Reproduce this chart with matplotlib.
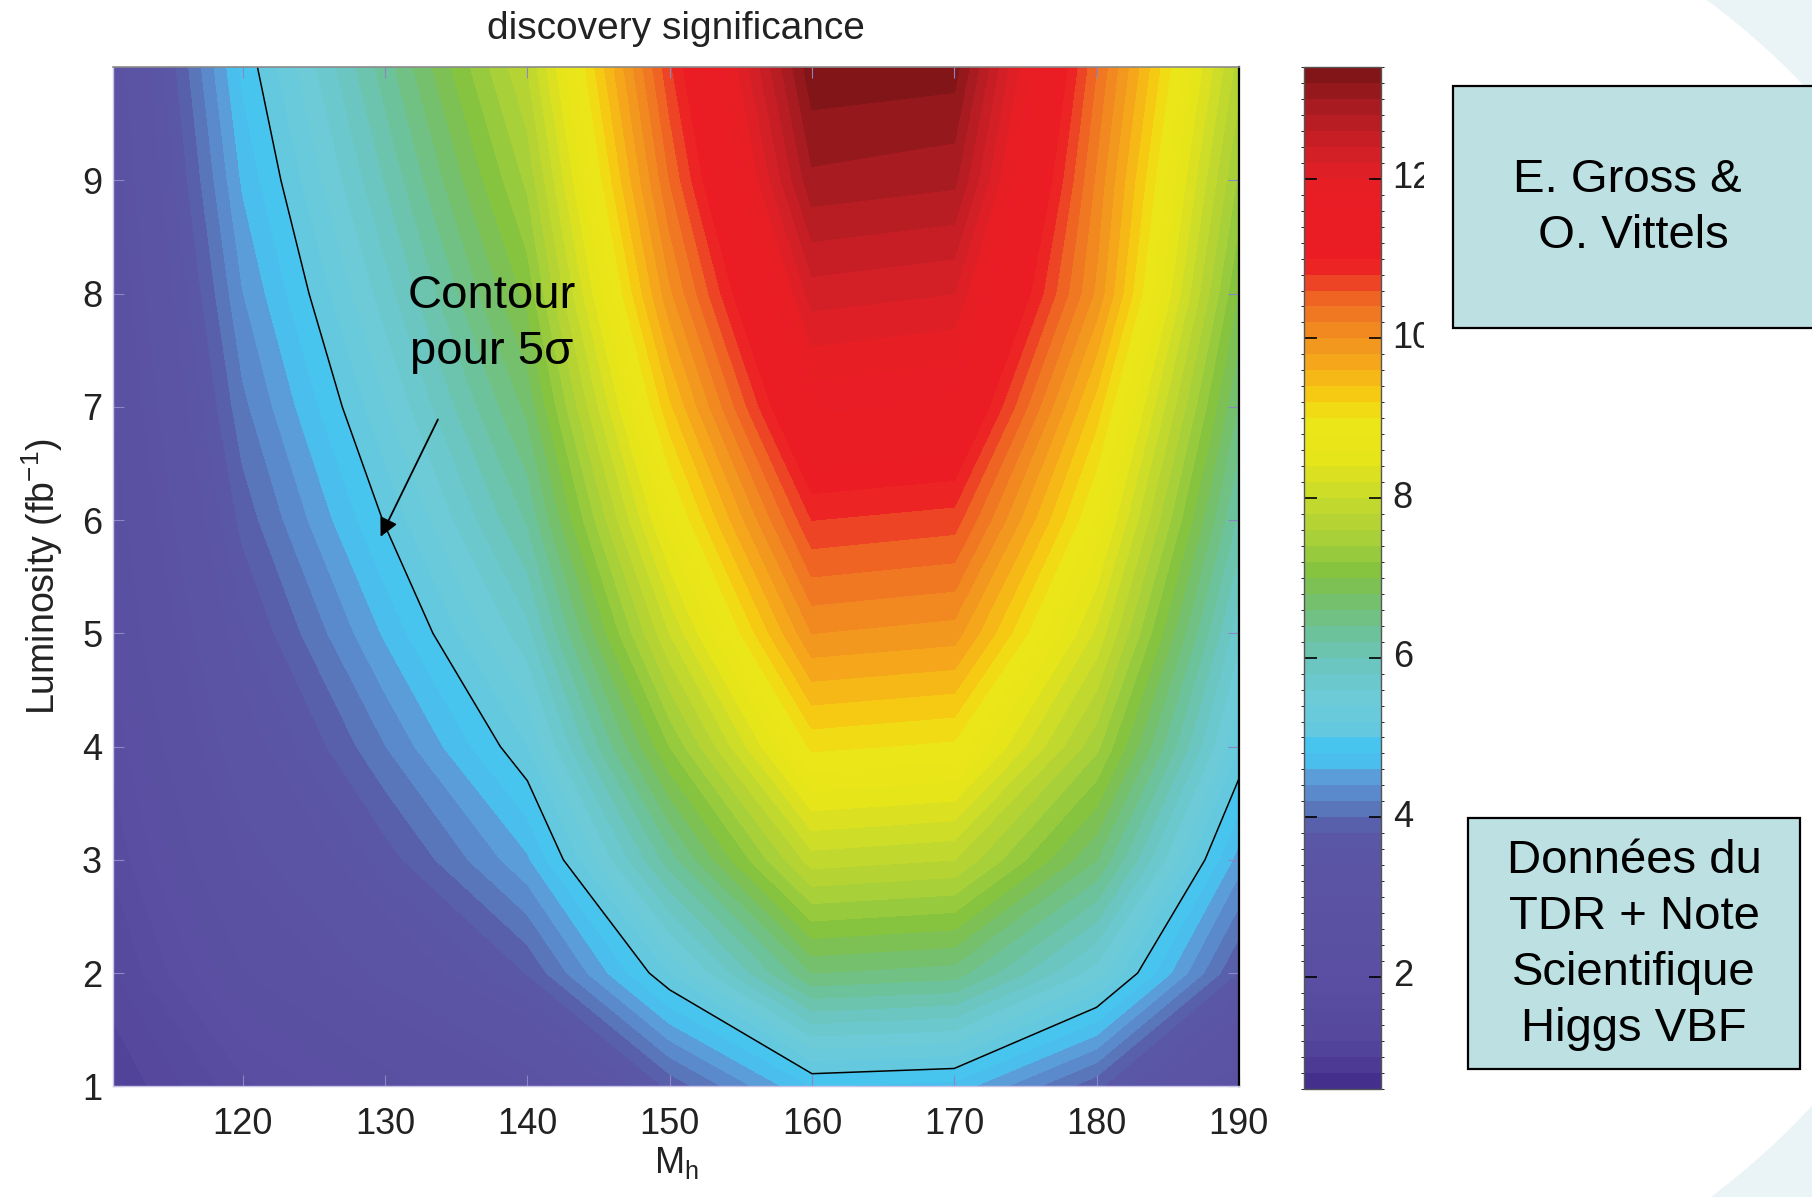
import numpy as np
import matplotlib
matplotlib.use("Agg")
import matplotlib.pyplot as plt
from matplotlib import font_manager
from matplotlib.colors import LinearSegmentedColormap, ListedColormap, BoundaryNorm
from matplotlib.patches import Rectangle, Ellipse
from matplotlib.transforms import Bbox, TransformedBbox, blended_transform_factory

# --- données (significance vs M_h et luminosité) ---
mass = [110, 120, 130, 140, 150, 160, 170, 180, 190]
lumi = [1, 2, 3, 4, 5, 6, 7, 8, 9, 10]
# une colonne par masse, de L=1 à L=10 fb-1
sig_by_mass = [
    [0.93, 1.27, 1.52, 1.73, 1.91, 2.07, 2.22, 2.35, 2.48, 2.60],    # 110
    [1.74, 2.37, 2.84, 3.23, 3.56, 3.87, 4.14, 4.39, 4.63, 4.85],    # 120
    [2.26, 3.08, 3.69, 4.19, 4.63, 5.02, 5.37, 5.70, 6.01, 6.30],    # 130
    [2.80, 3.81, 4.56, 5.19, 5.73, 6.22, 6.65, 7.06, 7.44, 7.80],    # 140
    [3.85, 5.20, 6.30, 7.20, 8.00, 8.70, 9.35, 9.95, 10.40, 10.75],  # 150
    [4.80, 6.60, 7.90, 9.05, 10.00, 10.80, 11.65, 12.30, 12.95, 13.35],  # 160
    [4.72, 6.50, 7.80, 8.95, 9.90, 10.70, 11.55, 12.20, 12.85, 13.30],   # 170
    [3.85, 5.50, 6.60, 7.45, 8.15, 8.75, 9.30, 9.95, 10.15, 10.40],  # 180
    [2.76, 3.77, 4.50, 5.20, 5.66, 6.14, 6.57, 6.97, 7.35, 7.70],    # 190
]
x_ticks = [120, 130, 140, 150, 160, 170, 180, 190]
y_ticks = [1, 2, 3, 4, 5, 6, 7, 8, 9]
cbar_ticks = [2, 4, 6, 8, 10, 12]
z_min, z_max, z_step = 0.6, 13.4, 0.2

# --- colormap "jet imprimé" ---
cmap_values = [0.6, 1.2, 2.0, 3.0, 3.85, 4.05, 4.3, 4.5, 4.65, 4.75, 4.95, 5.05, 5.5,
               5.9, 6.3, 6.75, 7.1, 7.5, 8.0, 8.5, 9.0, 9.3, 9.7, 10.1, 10.5,
               10.8, 11.0, 12.0, 12.2, 12.6, 13.0, 13.4]
cmap_colors = ["#432d8c", "#54479c", "#5a4fa2", "#5b52a3", "#5a58a7", "#5870b5",
               "#5a88cb", "#5b9ad6", "#55b3e6", "#45c3f0", "#47c5ef", "#62c9e0",
               "#6ccbd8", "#6bc6c4", "#6cc29e", "#76c06a", "#84c340", "#a6cf3a",
               "#c6da2c", "#e6e51a", "#ece617", "#f6cd12", "#f5a91a", "#f28c20",
               "#ef6a23", "#ec3a25", "#ec1c24", "#e81e25", "#dc1f26", "#c41e25",
               "#a41a1f", "#7d1416"]

names = {f.name for f in font_manager.fontManager.ttflist}
axis_font = "Liberation Sans Narrow" if "Liberation Sans Narrow" in names else "Liberation Sans"
tick_size = 31 if axis_font.endswith("Narrow") else 26
title_size = 33 if axis_font.endswith("Narrow") else 28

plt.rcParams["font.family"] = ["Liberation Sans", "DejaVu Sans"]
plt.rcParams["mathtext.fontset"] = "custom"
plt.rcParams["mathtext.rm"] = "Liberation Sans"
plt.rcParams["mathtext.it"] = "Liberation Sans:italic"

levels = np.arange(z_min, z_max + 1e-6, z_step)
pos = [(v - z_min) / (z_max - z_min) for v in cmap_values]
base = LinearSegmentedColormap.from_list("jetprint", list(zip(pos, cmap_colors)))
centers = (levels[:-1] + levels[1:]) / 2
cmap = ListedColormap(base((centers - z_min) / (z_max - z_min)))
norm = BoundaryNorm(levels, cmap.N)

M, L = np.meshgrid(mass, lumi)
Z = np.array(sig_by_mass).T

fig = plt.figure(figsize=(18.12, 11.97), dpi=100)

# fond de la diapositive (arc clair à droite)
fig.add_artist(Rectangle((0.88, 0), 0.12, 1, transform=fig.transFigure,
                         color="#eaf4f6", zorder=-3))
fig.add_artist(Ellipse((1264 / 1812, 1 - 600 / 1197), 2 * 745 / 1812, 2 * 745 / 1197,
                       transform=fig.transFigure, color="white", zorder=-2))

ax = fig.add_axes([0.0625, 0.0925, 0.6212, 0.8515])
cs = ax.contourf(M, L, Z, levels=levels, cmap=cmap, norm=norm)
cs.set_edgecolor("face")
cs.set_linewidth(0.4)
ax.contour(M, L, Z, levels=[5], colors="k", linewidths=1.1)

ax.set_xlim(110.9, 190)
ax.set_ylim(1, 10)
ax.set_xticks(x_ticks)
ax.set_yticks(y_ticks)
ax.tick_params(direction="in", length=8, color="#8c86c4", top=True, right=True)
ax.tick_params(axis="x", pad=15)
ax.tick_params(axis="y", pad=8)
for lab in ax.get_xticklabels() + ax.get_yticklabels():
    lab.set_fontfamily(axis_font)
    lab.set_fontsize(tick_size)
    lab.set_color("#222222")
for side, col, lw in [("top", "#8a8a8a", 1.2), ("right", "black", 1.6),
                      ("left", "#c8c2e6", 1.0), ("bottom", "#c8c2e6", 1.0)]:
    ax.spines[side].set_color(col)
    ax.spines[side].set_linewidth(lw)

ax.set_title("discovery significance", fontfamily=axis_font, fontsize=title_size,
             pad=20, color="#222222")
ax.set_xlabel("M$_{\\mathrm{h}}$", fontfamily=axis_font, fontsize=tick_size,
              labelpad=2, color="#222222")
ax.set_ylabel("Luminosity (fb$^{-1}$)", fontsize=27, labelpad=12, color="#222222")

ax.annotate("", xy=(129.6, 5.83), xytext=(133.8, 6.91),
            arrowprops=dict(arrowstyle="-|>", color="black", lw=1.3, mutation_scale=28))
ax.text(137.5, 7.73, "Contour\npour 5σ", ha="center", va="center", fontsize=34,
        linespacing=1.36, color="black")

# colorbar
cax = fig.add_axes([0.7194, 0.0905, 0.0428, 0.8535])
cbar = fig.colorbar(cs, cax=cax, ticks=cbar_ticks)
cbar.outline.set_edgecolor("#555555")
cbar.outline.set_linewidth(1.0)
cax.yaxis.set_ticks_position("both")
cax.tick_params(direction="in", length=9, width=1.2, color="black",
                labelleft=False, labelright=False)
clip = TransformedBbox(Bbox.from_extents(0, 0, 1424 / 1812, 1), fig.transFigure)
trans = blended_transform_factory(cax.transAxes, cax.transData)
for v in cbar_ticks:
    t = cax.text(1.15, v, str(v), transform=trans, ha="left", va="center",
                 fontfamily=axis_font, fontsize=tick_size, color="#222222")
    t.set_clip_box(clip)
    t.set_clip_on(True)

# encadrés
box_color = "#bde0e3"
fig.add_artist(Rectangle((0.8017, 0.726), 0.25, 0.2022, transform=fig.transFigure,
                         facecolor=box_color, edgecolor="black", lw=1.6, zorder=2))
fig.text(0.898, 0.826, "E. Gross &\n O. Vittels", ha="center", va="center",
         fontsize=34, linespacing=1.36, zorder=3)
fig.add_artist(Rectangle((0.81, 0.107), 0.1836, 0.2097, transform=fig.transFigure,
                         facecolor=box_color, edgecolor="black", lw=1.6, zorder=2))
fig.text(0.9018, 0.2105, "Données du\nTDR + Note\nScientifique\nHiggs VBF",
         ha="center", va="center", fontsize=34, linespacing=1.36, zorder=3)

fig.savefig("out.png", dpi=100)
